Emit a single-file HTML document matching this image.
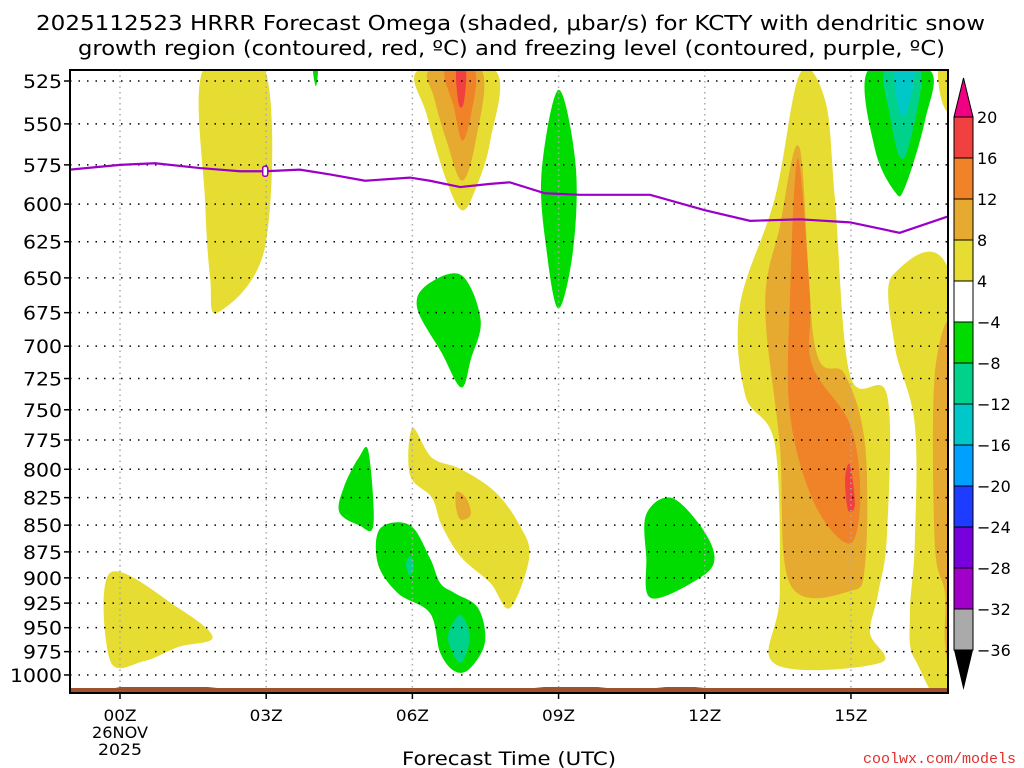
<!DOCTYPE html>
<html><head><meta charset="utf-8"><style>
body{margin:0;background:#fff;}
svg{display:block;font-family:"DejaVu Sans","Liberation Sans",sans-serif;}
</style></head><body>
<svg id="chart" width="1024" height="768" viewBox="0 0 1024 768" xmlns="http://www.w3.org/2000/svg">
<text x="36" y="30" font-size="20" textLength="949" lengthAdjust="spacingAndGlyphs" fill="#000">2025112523 HRRR Forecast Omega (shaded, μbar/s) for KCTY with dendritic snow</text>
<text x="78" y="55" font-size="20" textLength="867" lengthAdjust="spacingAndGlyphs" fill="#000">growth region (contoured, red, ºC) and freezing level (contoured, purple, ºC)</text>
<g id="fills"></g>
<g id="grid"></g>
<g id="lines"></g>
<g id="axes"></g>
<g id="cbar"></g>
<text x="509" y="765" font-size="19" text-anchor="middle" textLength="214" lengthAdjust="spacingAndGlyphs">Forecast Time (UTC)</text>
<text x="1016" y="763" font-size="15" text-anchor="end" fill="#e03030" font-family="Liberation Mono, monospace">coolwx.com/models</text>
</svg>
<script>
const hours=[0,3,6,9,12,15];
const hourLabels=["00Z","03Z","06Z","09Z","12Z","15Z"];
const levels=[525,550,575,600,625,650,675,700,725,750,775,800,825,850,875,900,925,950,975,1000];
const cbLevels=["20","16","12","8","4","−4","−8","−12","−16","−20","−24","−28","−32","−36"];
const cbColors=["#f04040","#f08228","#e6aa30","#e6dc32","#ffffff","#00dc00","#00d28c","#00c8c8","#00a0ff","#1e3cff","#7800dc","#a000c8","#aaaaaa"];
const freezeH=[-1.03,0,0.72,1.64,2.46,2.98,3.69,4.31,5.03,5.95,6.36,6.98,7.6,8.0,8.72,9.44,10.88,12.0,12.93,13.95,14.98,16.0,17.0];
const freezeP=[578,575,574,577,579,579,578,581,585,583,585,589,587,586,593,594,594,604,611,610,612,619,608];
const regions=[
 [3,[[1.7,519],[2.98,519],[2.98,628],[2.0,675],[1.85,650],[1.75,600]]],
 [5,[[3.96,519],[4.06,519],[4.02,528]]],
 [3,[[6.12,519],[7.7,519],[7.6,560],[7.3,590],[7.02,604],[6.7,585],[6.3,545]]],
 [2,[[6.36,519],[7.42,519],[7.3,560],[7.02,585],[6.7,560],[6.45,535]]],
 [1,[[6.67,519],[7.28,519],[7.2,545],[7.02,560],[6.85,540]]],
 [0,[[6.9,519],[7.1,519],[7.05,538],[6.95,538]]],
 [5,[[9.0,530],[9.35,575],[9.3,630],[9.0,672],[8.75,630],[8.65,580]]],
 [5,[[6.1,672],[6.3,655],[7.0,648],[7.4,680],[7.2,710],[7.0,732],[6.6,705]]],
 [3,[[6.0,765],[6.4,790],[7.0,800],[7.7,820],[8.2,850],[8.4,880],[8.0,930],[7.6,905],[7.0,880],[6.6,850],[6.4,825],[5.95,805]]],
 [2,[[6.9,820],[7.1,825],[7.2,840],[7.0,845],[6.9,835]]],
 [5,[[4.9,790],[5.1,785],[5.2,850],[4.9,850],[4.5,838],[4.6,815]]],
 [5,[[5.34,853],[5.95,850],[6.36,881],[6.57,905],[6.87,915],[7.35,930],[7.49,965],[7.18,993],[6.87,996],[6.57,976],[6.36,935],[5.7,915],[5.29,886]]],
 [6,[[6.98,937],[7.18,960],[6.98,987],[6.73,960]]],
 [6,[[5.95,879],[6.03,887],[5.95,898],[5.87,887]]],
 [5,[[10.8,840],[11.3,825],[11.9,850],[12.2,880],[11.9,900],[10.9,920],[10.8,880]]],
 [3,[[-0.2,895],[1.2,930],[1.9,960],[1.2,970],[0.5,985],[-0.2,985]]],
 [3,[[13.95,521],[14.47,536],[14.67,596],[14.98,722],[15.74,738],[15.74,858],[15.56,915],[15.39,955],[15.6,987],[13.44,988],[13.54,915],[13.44,779],[12.83,738],[12.72,670],[13.44,596]]],
 [2,[[13.95,565],[14.26,700],[14.88,722],[15.29,779],[15.29,887],[14.98,913],[13.75,906],[13.54,779],[13.24,670],[13.54,615]]],
 [1,[[13.91,571],[14.16,663],[14.2,714],[14.98,762],[15.19,822],[14.98,867],[14.26,831],[13.75,754],[13.75,663]]],
 [0,[[14.98,796],[15.08,831],[14.94,836],[14.88,808]]],
 [5,[[15.35,519],[16.62,519],[16.52,548],[16.11,589],[15.9,592],[15.49,565]]],
 [6,[[15.7,519],[16.43,519],[16.2,562],[16.0,570],[15.8,545]]],
 [7,[[15.9,519],[16.3,519],[16.15,542],[16.0,543]]],
 [3,[[16.79,519],[17.0,519],[17.0,542],[16.85,535]]],
 [3,[[15.86,648],[17.1,658],[17.1,1005],[16.31,983],[16.21,935],[16.31,867],[16.31,762],[15.9,700]]],
 [2,[[17.1,697],[16.72,722],[16.72,867],[16.93,915],[16.93,965],[17.1,990]]]
];
const L=70,R=948,T=70,B=693;
const xS=h=>120+48.73*h;
const yS=p=>-5692.6+921.8*Math.log(p);
const NS="http://www.w3.org/2000/svg";
function mk(tag,attrs,parent){const e=document.createElementNS(NS,tag);for(const k in attrs)e.setAttribute(k,attrs[k]);parent.appendChild(e);return e;}
function smooth(pts){const n=pts.length;let d=`M${pts[0][0]},${pts[0][1]}`;for(let i=0;i<n;i++){const p0=pts[(i-1+n)%n],p1=pts[i],p2=pts[(i+1)%n],p3=pts[(i+2)%n];const t=0.17;d+=`C${p1[0]+(p2[0]-p0[0])*t},${p1[1]+(p2[1]-p0[1])*t} ${p2[0]-(p3[0]-p1[0])*t},${p2[1]-(p3[1]-p1[1])*t} ${p2[0]},${p2[1]}`;}return d+"Z";}
const svg=document.getElementById('chart');
const defs=mk('defs',{},svg);const cp=mk('clipPath',{id:'pc'},defs);mk('rect',{x:L,y:T,width:R-L,height:B-T},cp);
const fills=document.getElementById('fills');fills.setAttribute('clip-path','url(#pc)');
regions.forEach((r,i)=>{const pts=r[1].map(q=>[xS(q[0]),yS(q[1])]);
 const e=mk('path',{d:smooth(pts),fill:cbColors[r[0]]},fills);
 
 });
const grid=document.getElementById('grid');
levels.forEach(p=>{const e=mk('line',{x1:L,x2:R,y1:yS(p),y2:yS(p),stroke:'#000','stroke-width':1.5,'stroke-dasharray':'1.5 7'},grid);
 
 });
hours.forEach(h=>{const e=mk('line',{x1:xS(h),x2:xS(h),y1:T,y2:B,stroke:'#aaa','stroke-width':1.5,'stroke-dasharray':'1.5 4'},grid);
 
 });
const lines=document.getElementById('lines');lines.setAttribute('clip-path','url(#pc)');
const fl=mk('polyline',{points:freezeH.map((h,i)=>xS(h)+','+yS(freezeP[i])).join(' '),fill:'none',stroke:'#9a00c8','stroke-width':2.2},lines);


const fm=mk('rect',{x:xS(2.98)-2.5,y:yS(579)-5,width:5,height:10,rx:2,fill:'#fff',stroke:'#9a00c8','stroke-width':1.5},lines);


const ter=mk('path',{d:`M${L},${B} L${L},688 L${xS(-0.1)},688 L${xS(0)},687 L${xS(1.8)},687 L${xS(2.0)},688 L${xS(8.5)},688 L${xS(8.7)},687 L${xS(9.8)},687 L${xS(10)},688 L${xS(11)},688 L${xS(11.2)},687 L${xS(11.8)},687 L${xS(12)},688 L${R},688 L${R},${B}Z`,fill:'#a0522d'},lines);


const ax=document.getElementById('axes');
const fr=mk('rect',{x:L,y:T,width:R-L,height:B-T,fill:'none',stroke:'#000','stroke-width':2},ax);


levels.forEach(p=>{mk('line',{x1:L-6,x2:L,y1:yS(p),y2:yS(p),stroke:'#000','stroke-width':1.5},ax);
 const t=mk('text',{x:L-8,y:yS(p)+7,'font-size':19,'text-anchor':'end',textLength:String(p).length*13,lengthAdjust:'spacingAndGlyphs'},ax);t.textContent=p;
 
 });
hours.forEach((h,i)=>{mk('line',{x1:xS(h),x2:xS(h),y1:B,y2:B+6,stroke:'#000','stroke-width':1.5},ax);
 const t=mk('text',{x:xS(h),y:721,'font-size':16,'text-anchor':'middle',textLength:33,lengthAdjust:'spacingAndGlyphs'},ax);t.textContent=hourLabels[i];
 
 });
[["26NOV",738,56],["2025",755,44]].forEach(a=>{const t=mk('text',{x:xS(0),y:a[1],'font-size':16,'text-anchor':'middle',textLength:a[2],lengthAdjust:'spacingAndGlyphs'},ax);t.textContent=a[0];
 
 });
const cb=document.getElementById('cbar');
const cx=954,cw=19,c0=117,ch=41;
const tp=mk('polygon',{points:`${cx},${c0} ${cx+cw},${c0} ${cx+cw/2},${c0-39}`,fill:'#f00082',stroke:'#000'},cb);


cbColors.forEach((c,i)=>{const e=mk('rect',{x:cx,y:c0+i*ch,width:cw,height:ch,fill:c,stroke:'#000','stroke-width':1},cb);
 
 });
const bt=c0+cbColors.length*ch;
const bp=mk('polygon',{points:`${cx},${bt} ${cx+cw},${bt} ${cx+cw/2},${bt+40}`,fill:'#000'},cb);


cbLevels.forEach((l,i)=>{const t=mk('text',{x:977,y:c0+i*ch+6,'font-size':16},cb);t.textContent=l;
 
 });
</script>
</body></html>
